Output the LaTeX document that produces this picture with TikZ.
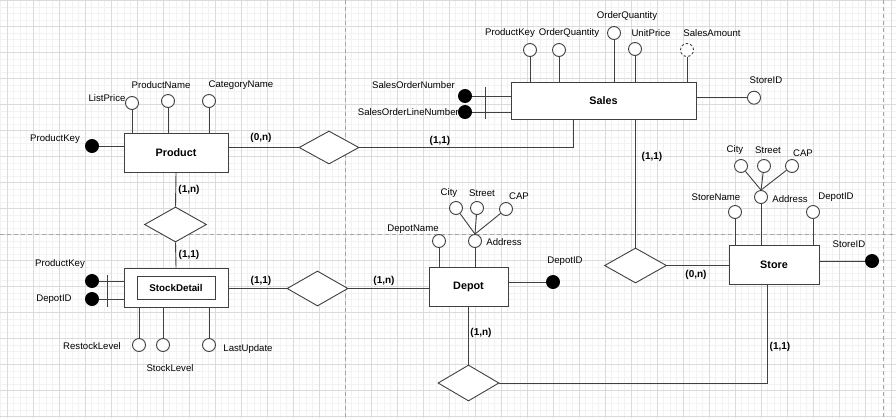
\documentclass[tikz,border=0pt]{standalone}
\usepackage{fontspec}
\setmainfont{Liberation Sans}
\usetikzlibrary{shapes.geometric}
\begin{document}
\begin{tikzpicture}[x=1pt,y=-1pt,
  conn/.style={line width=0.9pt, draw=black!75},
  minorgrid/.style={draw=black!5, line width=0.6pt},
  majorgrid/.style={draw=black!14, line width=0.6pt},
  pagebreak/.style={draw=black!35, dash pattern=on 4pt off 3pt, line width=0.7pt},
  attr/.style={circle, draw=black!75, line width=0.9pt, fill=white, minimum size=13pt, inner sep=0pt},
  keyattr/.style={attr, fill=black, draw=black},
  derattr/.style={attr, dash pattern=on 2.5pt off 2pt},
  ent/.style={draw=black!75, line width=1pt, fill=white, inner sep=0pt, font=\fontsize{10.8}{12}\selectfont\bfseries},
  rel/.style={diamond, draw=black!75, line width=0.9pt, fill=white, inner sep=0pt},
  lbl/.style={inner sep=0pt, font=\fontsize{9.6}{11}\selectfont},
  card/.style={inner sep=0pt, font=\fontsize{10}{11}\selectfont\bfseries}
]
\useasboundingbox (0,0) rectangle (896,418);
% grid
\foreach \i in {0,...,138} {\draw[minorgrid] ({0.5+6.5*\i},0) -- ({0.5+6.5*\i},418);}
\foreach \i in {0,...,64} {\draw[minorgrid] (0,{0.7+6.5*\i}) -- (896,{0.7+6.5*\i});}
\foreach \i in {0,...,34} {\draw[majorgrid] ({7+26*\i},0) -- ({7+26*\i},418);}
\foreach \i in {0,...,16} {\draw[majorgrid] (0,{0.7+26*\i}) -- (896,{0.7+26*\i});}
\draw[pagebreak] (345,0) -- (345,418);
\draw[pagebreak] (883,0) -- (883,418);
\draw[pagebreak] (0,234.7) -- (896,234.7);

% ---------- entities ----------
\node[ent, minimum width=185pt, minimum height=37pt] (sales) at (603.5,100.5) {Sales};
\node[ent, minimum width=104pt, minimum height=39pt] (product) at (176,152.5) {Product};
\node[ent, minimum width=104pt, minimum height=39pt] (stock) at (176,287.5) {};
\node[ent, minimum width=78pt, minimum height=23pt, font=\fontsize{9.8}{11}\selectfont\bfseries] (stockin) at (176,287.5) {StockDetail};
\node[ent, minimum width=79pt, minimum height=39pt] (depot) at (468.5,286.5) {Depot};
\node[ent, minimum width=90pt, minimum height=39pt] (store) at (774,264.5) {Store};

% ---------- relationships ----------
\node[rel, minimum width=60pt, minimum height=33pt] (dPS) at (329,147.5) {};
\node[rel, minimum width=62pt, minimum height=35pt] (dPSD) at (175.5,224.5) {};
\node[rel, minimum width=61pt, minimum height=35pt] (dSDD) at (317.5,288.5) {};
\node[rel, minimum width=62pt, minimum height=35pt] (dSS) at (635.5,265.5) {};
\node[rel, minimum width=61pt, minimum height=36pt] (dDS) at (468.5,383) {};

\coordinate (salesL) at (573,119);
\coordinate (storeB) at (767,284);

\draw[conn] (dPS.west) -- (dPS.west -| product.east);
\draw[conn] (dPS.east) -| (salesL);
\draw[conn] (dSS.north) -- (dSS.north |- sales.south);
\draw[conn] (dSS.east) -- (dSS.east -| store.west);
\draw[conn] (product.south) -- (dPSD.north);
\draw[conn] (dPSD.south) -- (stock.north);
\draw[conn] (dSDD.west) -- (dSDD.west -| stock.east);
\draw[conn] (dSDD.east) -- (dSDD.east -| depot.west);
\draw[conn] (depot.south) -- (dDS.north);
\draw[conn] (dDS.east) -| (storeB);

% cardinalities
\node[card] (c1) at (261,138) {(0,n)};
\node[card] (c2) at (440,141) {(1,1)};
\node[card] (c3) at (652,157) {(1,1)};
\node[card] (c4) at (189,190) {(1,n)};
\node[card] (c5) at (189,255) {(1,1)};
\node[card] (c6) at (261,281) {(1,1)};
\node[card] (c7) at (384,281) {(1,n)};
\node[card] (c8) at (696,275) {(0,n)};
\node[card] (c9) at (481,333) {(1,n)};
\node[card] (c10) at (780,347) {(1,1)};

% ---------- Sales attributes ----------
\node[attr] (sa1) at (530,50) {};
\node[attr] (sa2) at (559,50) {};
\node[attr] (sa3) at (614,33) {};
\node[attr] (sa4) at (635,49) {};
\node[derattr] (sa5) at (687,50) {};
\node[attr] (sa6) at (754,97.7) {};
\node[keyattr] (sk1) at (465,96) {};
\node[keyattr] (sk2) at (465,112) {};
\foreach \a in {sa1,sa2,sa3,sa4,sa5} {\draw[conn] (\a.south) -- (\a.south |- sales.north);}
\draw[conn] (sa6.west) -- (sa6.west -| sales.east);
\draw[conn] (sk1.east) -- (sk1.east -| sales.west);
\draw[conn] (sk2.east) -- (sk2.east -| sales.west);
\coordinate (sbarT) at (485,87);
\coordinate (sbarB) at (485,119);
\draw[conn] (sbarT) -- (sbarB);
\node[lbl] (lsa1) at (510,33) {ProductKey};
\node[lbl] (lsa2) at (569,33) {OrderQuantity};
\node[lbl] (lsa3) at (627,16) {OrderQuantity};
\node[lbl] (lsa4) at (651,33) {UnitPrice};
\node[lbl] (lsa5) at (712,33) {SalesAmount};
\node[lbl] (lsa6) at (766,80) {StoreID};
\node[lbl, anchor=east] (lsk1) at (455,85) {SalesOrderNumber};
\node[lbl, anchor=east] (lsk2) at (459,112) {SalesOrderLineNumber};

% ---------- Product attributes ----------
\node[keyattr] (pk) at (92,146) {};
\node[attr] (pa1) at (132,103) {};
\node[attr] (pa2) at (168,101) {};
\node[attr] (pa3) at (209,101) {};
\draw[conn] (pk.east) -- (pk.east -| product.west);
\foreach \a in {pa1,pa2,pa3} {\draw[conn] (\a.south) -- (\a.south |- product.north);}
\node[lbl] (lpk) at (55,139) {ProductKey};
\node[lbl] (lpa1) at (107,98) {ListPrice};
\node[lbl] (lpa2) at (161,85) {ProductName};
\node[lbl] (lpa3) at (241,85) {CategoryName};

% ---------- StockDetail attributes ----------
\node[keyattr] (sdk1) at (92,281) {};
\node[keyattr] (sdk2) at (92,299) {};
\draw[conn] (sdk1.east) -- (sdk1.east -| stock.west);
\draw[conn] (sdk2.east) -- (sdk2.east -| stock.west);
\coordinate (sdbarT) at (107,275);
\coordinate (sdbarB) at (107,307);
\draw[conn] (sdbarT) -- (sdbarB);
\node[attr] (sda1) at (139,345) {};
\node[attr] (sda2) at (163,345) {};
\node[attr] (sda3) at (209,345) {};
\foreach \a in {sda1,sda2,sda3} {\draw[conn] (\a.north) -- (\a.north |- stock.south);}
\node[lbl] (lsdk1) at (60,264) {ProductKey};
\node[lbl] (lsdk2) at (54,299) {DepotID};
\node[lbl] (lsda1) at (92,346) {RestockLevel};
\node[lbl] (lsda2) at (170,368) {StockLevel};
\node[lbl] (lsda3) at (248,349) {LastUpdate};

% ---------- Depot attributes ----------
\node[keyattr] (dk) at (553,282) {};
\draw[conn] (dk.west) -- (dk.west -| depot.east);
\node[attr] (da1) at (439,241) {};
\node[attr] (daddr) at (475,241) {};
\node[attr] (dcity) at (456,208) {};
\node[attr] (dstreet) at (477,208) {};
\node[attr] (dcap) at (506,209) {};
\draw[conn] (da1.south) -- (da1.south |- depot.north);
\draw[conn] (daddr.south) -- (daddr.south |- depot.north);
\foreach \a in {dcity,dstreet,dcap} {\draw[conn] (\a) -- (daddr.north);}
\node[lbl] (ldk) at (565,261) {DepotID};
\node[lbl] (lda1) at (413,229) {DepotName};
\node[lbl] (ldaddr) at (504,242) {Address};
\node[lbl] (ldcity) at (449,193) {City};
\node[lbl] (ldstreet) at (482,193) {Street};
\node[lbl] (ldcap) at (519,196) {CAP};

% ---------- Store attributes ----------
\node[keyattr] (stk) at (872,261) {};
\draw[conn] (stk.west) -- (stk.west -| store.east);
\node[attr] (sta1) at (735,212) {};
\node[attr] (staddr) at (761,197) {};
\node[attr] (sta2) at (813,212) {};
\node[attr] (stcity) at (741,166) {};
\node[attr] (ststreet) at (764,166) {};
\node[attr] (stcap) at (792,166) {};
\foreach \a in {sta1,staddr,sta2} {\draw[conn] (\a.south) -- (\a.south |- store.north);}
\foreach \a in {stcity,ststreet,stcap} {\draw[conn] (\a) -- (staddr.north);}
\node[lbl] (lstk) at (849,244) {StoreID};
\node[lbl] (lsta1) at (716,197) {StoreName};
\node[lbl] (lstaddr) at (790,199) {Address};
\node[lbl] (lsta2) at (836,197) {DepotID};
\node[lbl] (lstcity) at (735,150) {City};
\node[lbl] (lststreet) at (768,150) {Street};
\node[lbl] (lstcap) at (803,153) {CAP};
\end{tikzpicture}
\end{document}
